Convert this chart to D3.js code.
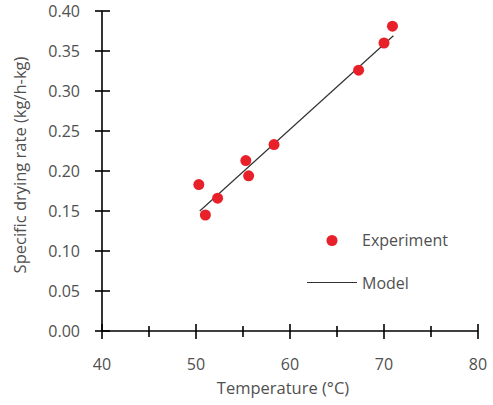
<!DOCTYPE html>
<html>
<head>
<script src="https://cdn.jsdelivr.net/npm/d3@7"></script>
<style>
body { margin: 0; background: #fff; }
text { font-family: "Open Sans", sans-serif; fill: #505050; }
.axis line { stroke: #000; stroke-width: 1.6; }
</style>
</head>
<body>
<div id="chart"></div>
<script>
// measured points (Experiment)
var tempC = [50.3, 51.0, 52.3, 55.3, 55.6, 58.3, 67.3, 70.0, 70.9];
var dryRate = [0.183, 0.145, 0.166, 0.213, 0.194, 0.233, 0.326, 0.360, 0.381];
// model line end points
var modelT = [50.4, 71.0];
var modelRate = [0.150, 0.369];
var xTicks = [40, 50, 60, 70, 80];
var xMinor = [45, 55, 65, 75];
var yTicks = [0, 0.05, 0.10, 0.15, 0.20, 0.25, 0.30, 0.35, 0.40];

var W = 493, H = 405;
var svg = d3.select("#chart").append("svg")
	.attr("width", W).attr("height", H);

var x = d3.scaleLinear().domain([40, 80]).range([102, 478]);
var y = d3.scaleLinear().domain([0, 0.40]).range([331, 11]);

// y axis
var gy = svg.append("g").attr("class", "axis")
	.attr("transform", "translate(" + x(40) + ",0)");
gy.append("line").attr("y1", y(0)).attr("y2", y(0.40));
gy.selectAll("line.tk").data(yTicks).enter().append("line")
	.attr("class", "tk")
	.attr("x1", -7).attr("x2", 8)
	.attr("y1", function(d) { return y(d); })
	.attr("y2", function(d) { return y(d); });
gy.selectAll("text").data(yTicks).enter().append("text")
	.attr("x", -22).attr("y", function(d) { return y(d) + 5.5; })
	.attr("text-anchor", "end")
	.style("font-size", "16px")
	.text(function(d) { return d3.format(".2f")(d); });

// x axis
var gx = svg.append("g").attr("class", "axis")
	.attr("transform", "translate(0," + y(0) + ")");
gx.append("line").attr("x1", x(40)).attr("x2", x(80));
gx.selectAll("line.tk").data(xTicks).enter().append("line")
	.attr("class", "tk")
	.attr("y1", -7).attr("y2", 8)
	.attr("x1", function(d) { return x(d); })
	.attr("x2", function(d) { return x(d); });
gx.selectAll("line.mn").data(xMinor).enter().append("line")
	.attr("class", "mn")
	.attr("y1", -5).attr("y2", 6)
	.attr("x1", function(d) { return x(d); })
	.attr("x2", function(d) { return x(d); });
gx.selectAll("text").data(xTicks).enter().append("text")
	.attr("x", function(d) { return x(d); }).attr("y", 39)
	.attr("text-anchor", "middle")
	.style("font-size", "16px")
	.text(function(d) { return d; });

// axis titles
svg.append("text")
	.attr("x", 283).attr("y", 394)
	.attr("text-anchor", "middle")
	.style("font-size", "16.5px")
	.text("Temperature (°C)");
svg.append("text")
	.attr("transform", "translate(26,165) rotate(-90)")
	.attr("text-anchor", "middle")
	.style("font-size", "16.5px")
	.text("Specific drying rate (kg/h-kg)");

// model line
svg.append("line")
	.attr("x1", x(modelT[0])).attr("y1", y(modelRate[0]))
	.attr("x2", x(modelT[1])).attr("y2", y(modelRate[1]))
	.attr("stroke", "#333").attr("stroke-width", 1.2);

// experiment points
svg.selectAll("circle.pt").data(tempC).enter().append("circle")
	.attr("class", "pt")
	.attr("cx", function(d) { return x(d); })
	.attr("cy", function(d, i) { return y(dryRate[i]); })
	.attr("r", 5.5)
	.attr("fill", "#e8202a");

// legend
svg.append("circle").attr("cx", 332).attr("cy", 240.5).attr("r", 5.5).attr("fill", "#e8202a");
svg.append("text").attr("x", 362).attr("y", 246).style("font-size", "16px").text("Experiment");
svg.append("line").attr("x1", 307).attr("x2", 357).attr("y1", 282.5).attr("y2", 282.5)
	.attr("stroke", "#333").attr("stroke-width", 1.2);
svg.append("text").attr("x", 362).attr("y", 288.5).style("font-size", "16px").text("Model");
</script>
</body>
</html>
